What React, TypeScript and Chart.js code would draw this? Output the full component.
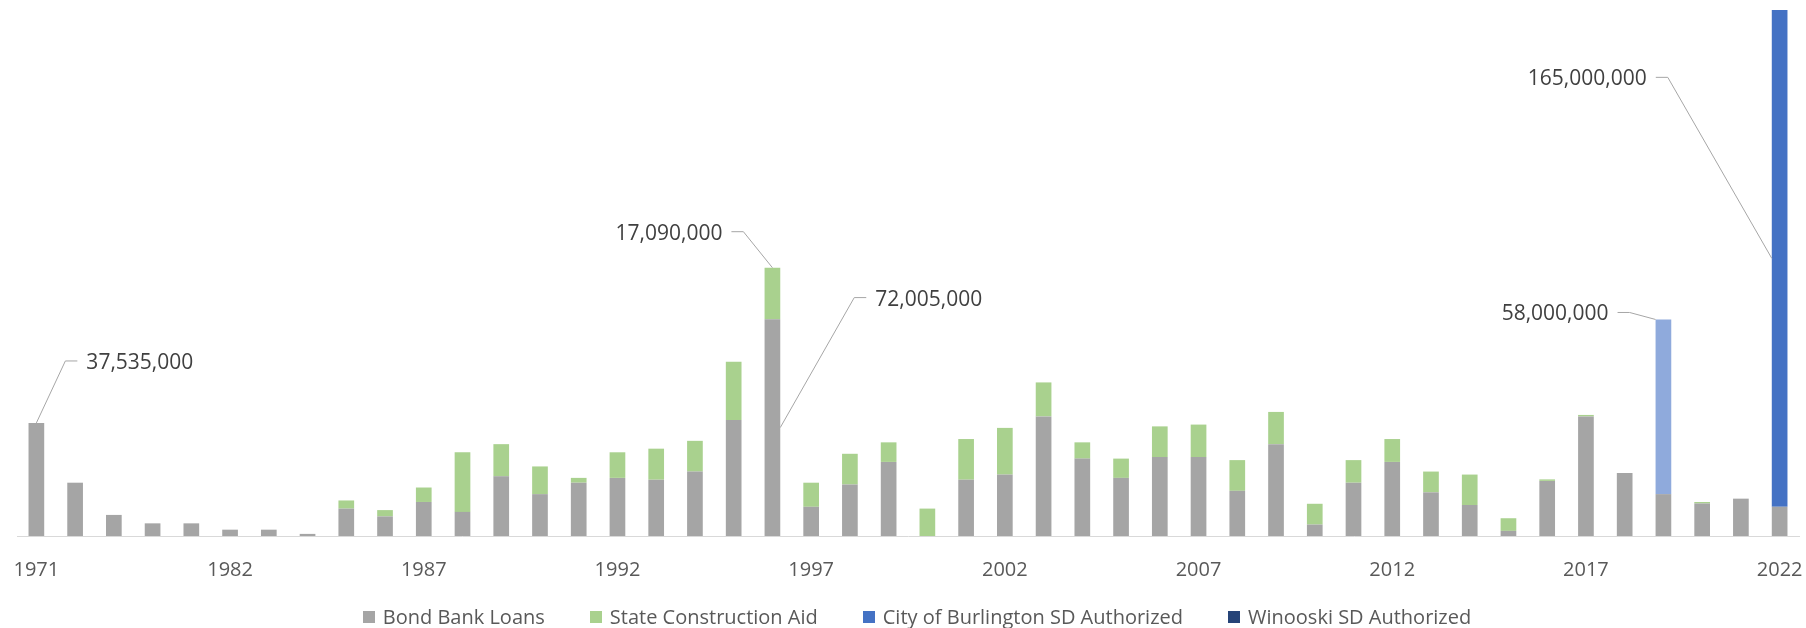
import React, { useEffect, useRef } from "react";
import { Chart, registerables } from "chart.js";

Chart.register(...registerables);

const CATEGORIES = [
  "1971", "1974", "1977", "1979", "1981",
  "1982", "1983", "1984", "1985", "1986", "1987", "1988", "1989", "1990", "1991",
  "1992", "1993", "1994", "1995", "1996", "1997", "1998", "1999", "2000", "2001",
  "2002", "2003", "2004", "2005", "2006", "2007", "2008", "2009", "2010", "2011",
  "2012", "2013", "2014", "2015", "2016", "2017", "2018", "2019", "2020", "2021",
  "2022",
];

const BOND_BANK_LOANS = [
  37535000, 17700000, 7000000, 4200000, 4200000,
  2100000, 2100000, 700000, 9100000, 6500000, 11300000, 8000000, 19800000, 13900000, 17700000,
  19300000, 18700000, 21400000, 38500000, 72005000, 9700000, 17100000, 24600000, 0, 18700000,
  20400000, 39700000, 25700000, 19300000, 26200000, 26200000, 15000000, 30500000, 3800000, 17700000,
  24600000, 14500000, 10300000, 1700000, 18300000, 39700000, 20900000, 13900000, 10800000, 12400000,
  9700000,
];

const STATE_CONSTRUCTION_AID = [
  0, 0, 0, 0, 0,
  0, 0, 0, 2700000, 2100000, 4800000, 19800000, 10700000, 9200000, 1600000,
  8500000, 10300000, 10200000, 19400000, 17090000, 8000000, 10200000, 6500000, 9100000, 13500000,
  15500000, 11300000, 5400000, 6400000, 10200000, 10800000, 10200000, 10700000, 6900000, 7500000,
  7600000, 6900000, 10100000, 4200000, 500000, 500000, 0, 0, 500000, 0,
  0,
];

const BURLINGTON_AUTHORIZED = [
  null, null, null, null, null, null, null, null, null, null, null, null, null, null, null,
  null, null, null, null, null, null, null, null, null, null, null, null, null, null, null,
  null, null, null, null, null, null, null, null, null, null, null, null, null, null, null,
  165000000,
];

const WINOOSKI_AUTHORIZED = [
  null, null, null, null, null, null, null, null, null, null, null, null, null, null, null,
  null, null, null, null, null, null, null, null, null, null, null, null, null, null, null,
  null, null, null, null, null, null, null, null, null, null, null, null, 58000000, null, null,
  null,
];

const SERIES_NAMES = [
  "Bond Bank Loans",
  "State Construction Aid",
  "City of Burlington SD Authorized",
  "Winooski SD Authorized",
];
const BAR_COLORS = ["#A5A5A5", "#A9D18E", "#4472C4", "#8FAADC"];
const LEGEND_COLORS = ["#A5A5A5", "#A9D18E", "#4472C4", "#264478"];

const Y_MAX = 175000000;

// callouts: which segment, where the leader touches it, and the elbow offset
const CALLOUTS = [
  { dataset: 0, index: 0, anchor: "top", dx: 29, dy: -62, dir: 1 },
  { dataset: 1, index: 19, anchor: "top", dx: -29, dy: -36, dir: -1 },
  { dataset: 0, index: 19, anchor: "rightMid", dx: 74, dy: -130, dir: 1 },
  { dataset: 3, index: 42, anchor: "topLeft", dx: -26, dy: -7, dir: -1 },
  { dataset: 2, index: 45, anchor: "leftMid", dx: -104, dy: -181, dir: -1 },
];

const FONT = "'Open Sans', 'DejaVu Sans', sans-serif";

const calloutPlugin = {
  id: "callouts",
  afterDatasetsDraw(chart: any) {
    const ctx = chart.ctx;
    ctx.save();
    for (const c of CALLOUTS) {
      const meta = chart.getDatasetMeta(c.dataset);
      const el: any = meta.data[c.index];
      if (!el) continue;
      const value = chart.data.datasets[c.dataset].data[c.index] as number;
      const half = el.width / 2;
      let ax = el.x;
      let ay = el.y;
      if (c.anchor === "topLeft") {
        ax = el.x - half;
      } else if (c.anchor === "rightMid") {
        ax = el.x + half;
        ay = (el.y + el.base) / 2;
      } else if (c.anchor === "leftMid") {
        ax = el.x - half;
        ay = (el.y + el.base) / 2;
      }
      const ex = ax + c.dx;
      const ey = ay + c.dy;
      const hx = ex + c.dir * 12;
      ctx.strokeStyle = "#A6A6A6";
      ctx.lineWidth = 1;
      ctx.beginPath();
      ctx.moveTo(ax, ay);
      ctx.lineTo(ex, ey);
      ctx.lineTo(hx, ey);
      ctx.stroke();
      ctx.fillStyle = "#404040";
      ctx.font = `21px ${FONT}`;
      ctx.textBaseline = "middle";
      ctx.textAlign = c.dir > 0 ? "left" : "right";
      ctx.fillText(value.toLocaleString("en-US"), hx + c.dir * 9, ey + 2);
    }
    ctx.restore();
  },
};

export default function App() {
  const canvasRef = useRef<HTMLCanvasElement | null>(null);

  useEffect(() => {
    if (!canvasRef.current) return;
    const chart = new Chart(canvasRef.current, {
      type: "bar",
      data: {
        labels: CATEGORIES,
        datasets: [
          { label: SERIES_NAMES[0], data: BOND_BANK_LOANS, backgroundColor: BAR_COLORS[0] },
          { label: SERIES_NAMES[1], data: STATE_CONSTRUCTION_AID, backgroundColor: BAR_COLORS[1] },
          { label: SERIES_NAMES[2], data: BURLINGTON_AUTHORIZED as any, backgroundColor: BAR_COLORS[2] },
          { label: SERIES_NAMES[3], data: WINOOSKI_AUTHORIZED as any, backgroundColor: BAR_COLORS[3] },
        ],
      },
      options: {
        responsive: false,
        animation: false,
        datasets: { bar: { categoryPercentage: 1, barPercentage: 0.405, borderWidth: 0 } },
        layout: { padding: { left: 17, right: 7, top: 9, bottom: 24 } },
        plugins: { legend: { display: false }, tooltip: { enabled: false } },
        scales: {
          x: {
            stacked: true,
            grid: { display: false, drawTicks: false },
            border: { display: true, color: "#D9D9D9", width: 1 },
            afterFit: (scale: any) => {
              scale.paddingLeft = 0;
              scale.paddingRight = 0;
            },
            ticks: {
              autoSkip: false,
              maxRotation: 0,
              minRotation: 0,
              padding: 22,
              color: "#595959",
              font: { family: FONT, size: 20 },
              callback: (_v: any, i: number) => (i % 5 === 0 ? CATEGORIES[i] : ""),
            },
          },
          y: { stacked: true, display: false, min: 0, max: Y_MAX },
        },
      },
      plugins: [calloutPlugin],
    });
    return () => chart.destroy();
  }, []);

  return (
    <div
      style={{
        position: "fixed",
        left: 0,
        top: 0,
        width: 1806,
        height: 628,
        background: "#ffffff",
        overflow: "hidden",
      }}
    >
      <canvas ref={canvasRef} width={1806} height={628} style={{ width: 1806, height: 628, display: "block" }} />
      <div
        style={{
          position: "absolute",
          left: 0,
          top: 606,
          width: 1806,
          display: "flex",
          justifyContent: "center",
          transform: "translateX(14px)",
          fontFamily: FONT,
          fontSize: 20,
          lineHeight: "22px",
          color: "#595959",
          whiteSpace: "nowrap",
        }}
      >
        {SERIES_NAMES.map((name, i) => (
          <div
            key={name}
            style={{ display: "flex", alignItems: "center", marginLeft: i === 0 ? 0 : 45 }}
          >
            <span
              style={{
                display: "inline-block",
                width: 12,
                height: 12,
                background: LEGEND_COLORS[i],
                marginRight: 8,
              }}
            />
            <span>{name}</span>
          </div>
        ))}
      </div>
    </div>
  );
}
